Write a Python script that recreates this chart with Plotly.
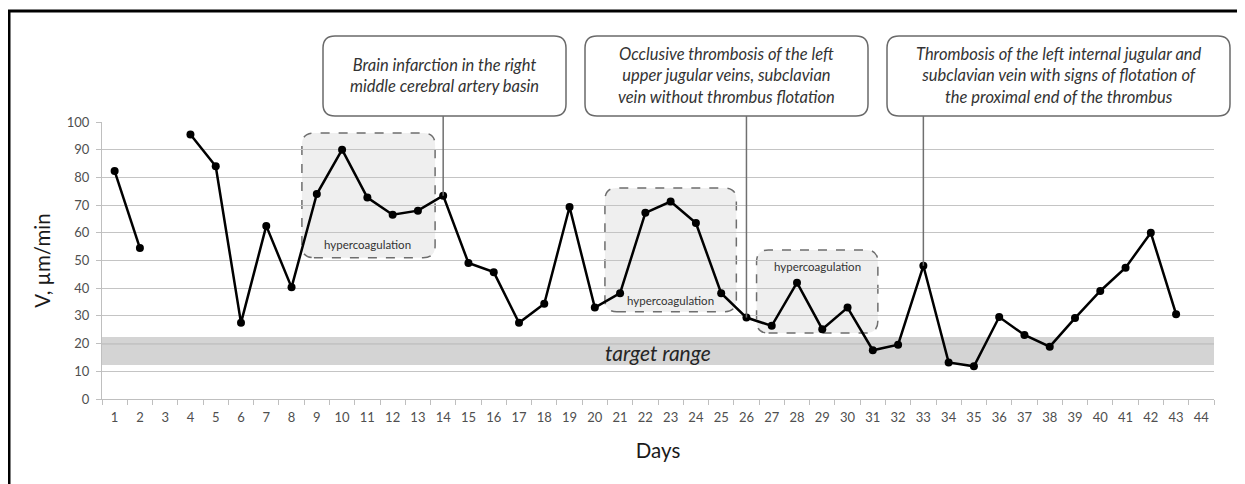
import plotly.graph_objects as go

# ---------------- data ----------------
days = list(range(1, 45))
velocity = [82.3, 54.5, None, 95.5, 84.0, 27.5, 62.5, 40.3, 74.0, 90.0,
            72.7, 66.5, 68.0, 73.4, 49.1, 45.8, 27.5, 34.4, 69.3, 33.0,
            38.2, 67.2, 71.3, 63.5, 38.2, 29.4, 26.4, 42.0, 25.2, 33.0,
            17.6, 19.6, 48.1, 13.2, 11.8, 29.6, 23.1, 18.9, 29.2, 39.0,
            47.4, 60.0, 30.6, None]
y_ticks = list(range(0, 101, 10))
target_low, target_high, target_line = 12.3, 22.4, 20

hyper_label = "hypercoagulation"
hyper_regions = [  # x0, x1, y0, y1 (data units), label x, label y
    (8.41, 13.68, 51.0, 96.0, 11.0, 55.6),
    (20.4, 25.6, 31.5, 76.2, 23.0, 35.4),
    (26.4, 31.2, 23.8, 53.8, 28.8, 48.0),
]
events_day = [14, 26, 33]
events_text = [
    "Brain infarction in the right<br>middle cerebral artery basin",
    "Occlusive thrombosis of the left<br>upper jugular veins, subclavian<br>vein without thrombus flotation",
    "Thrombosis of the left internal jugular and<br>subclavian vein with signs of flotation of<br>the proximal end of the thrombus",
]
# callout boxes in page pixel coordinates (x0, x1)
callout_px = [(323, 566), (585, 868), (887, 1230)]
callout_top, callout_bot = 36, 116

# ---------------- geometry ----------------
OFF = 8  # page offset of the plot div (body margin)
W, H = 1245 - OFF, 484 - OFF
L, R, T, B = 102 - OFF, 1214 - OFF, 122 - OFF, 399 - OFF
XMIN, XMAX = 0.5, 44.5
YMIN, YMAX = 0, 100


def px_to_paper_x(px):
    return (px - OFF - L) / (R - L)


def px_to_paper_y(py):
    return (B - (py - OFF)) / (B - T)


def rr_path(x0, x1, y0, y1, rx, ry):
    return (f"M {x0+rx},{y0} L {x1-rx},{y0} Q {x1},{y0} {x1},{y0+ry} "
            f"L {x1},{y1-ry} Q {x1},{y1} {x1-rx},{y1} L {x0+rx},{y1} "
            f"Q {x0},{y1} {x0},{y1-ry} L {x0},{y0+ry} Q {x0},{y0} {x0+rx},{y0} Z")


FONT = "Lato, 'Open Sans', sans-serif"
fig = go.Figure()

fig.add_trace(go.Scatter(
    x=days, y=velocity, mode="lines+markers",
    line=dict(color="black", width=2.5),
    marker=dict(color="black", size=8),
    connectgaps=False, showlegend=False, hoverinfo="x+y",
))

shapes = []
# target range band
shapes.append(dict(type="rect", xref="x", yref="y", x0=XMIN, x1=XMAX,
                   y0=target_low, y1=target_high, layer="below",
                   fillcolor="#d4d4d4", line=dict(width=0)))
shapes.append(dict(type="line", xref="x", yref="y", x0=XMIN, x1=XMAX,
                   y0=target_line, y1=target_line, layer="below",
                   line=dict(color="#a0a0a0", width=1.2)))

# hypercoagulation boxes
rx_d = 12 / ((R - L) / (XMAX - XMIN))
ry_d = 12 / ((B - T) / (YMAX - YMIN))
annotations = []
for x0, x1, y0, y1, lx, ly in hyper_regions:
    shapes.append(dict(type="path", xref="x", yref="y", layer="below",
                       path=rr_path(x0, x1, y0, y1, rx_d, ry_d),
                       fillcolor="rgba(225,225,225,0.55)",
                       line=dict(color="#6e6e6e", width=1.5, dash="dash")))
    annotations.append(dict(x=lx, y=ly, xref="x", yref="y", text=hyper_label,
                            showarrow=False, xanchor="center", yanchor="middle",
                            font=dict(family=FONT, size=11.5, color="#333333")))

# callouts
rx_p = 12 / (R - L)
ry_p = 12 / (B - T)
yt = px_to_paper_y(callout_top)
yb = px_to_paper_y(callout_bot)
for (px0, px1), day, txt in zip(callout_px, events_day, events_text):
    x0, x1 = px_to_paper_x(px0), px_to_paper_x(px1)
    shapes.append(dict(type="path", xref="paper", yref="paper",
                       path=rr_path(x0, x1, yb, yt, rx_p, ry_p),
                       fillcolor="white", line=dict(color="#6a6a6a", width=1.5)))
    xd = (day - XMIN) / (XMAX - XMIN)
    yv = velocity[days.index(day)]
    shapes.append(dict(type="line", xref="paper", yref="paper",
                       x0=xd, x1=xd, y0=yb, y1=yv / YMAX,
                       line=dict(color="#707070", width=1.5)))
    annotations.append(dict(x=(x0 + x1) / 2, y=(yt + yb) / 2, xref="paper", yref="paper",
                            text=f"<i>{txt}</i>", showarrow=False, align="center",
                            xanchor="center", yanchor="middle",
                            font=dict(family=FONT, size=16.5, color="#333333")))

# target range label
annotations.append(dict(x=22.5, y=16.7, xref="x", yref="y", text="<i>target range</i>",
                        showarrow=False, xanchor="center", yanchor="middle",
                        font=dict(family=FONT, size=21, color="#262626")))

# outer frame (only top and left edges visible)
shapes.append(dict(type="rect", xref="paper", yref="paper",
                   x0=px_to_paper_x(9), x1=px_to_paper_x(1245 + 20),
                   y0=px_to_paper_y(484 + 20), y1=px_to_paper_y(11),
                   line=dict(color="black", width=3), fillcolor="rgba(0,0,0,0)"))

fig.update_layout(
    width=W, height=H,
    margin=dict(l=L, r=W - R, t=T, b=H - B),
    paper_bgcolor="white", plot_bgcolor="rgba(0,0,0,0)",
    shapes=shapes, annotations=annotations, showlegend=False,
    font=dict(family=FONT),
)
fig.update_xaxes(
    range=[XMIN, XMAX], tickvals=days, ticktext=[str(d) for d in days],
    ticks="", showgrid=False, zeroline=False,
    showline=True, linecolor="#bfbfbf", linewidth=1,
    ticklabelstandoff=6,
    tickfont=dict(family=FONT, size=13, color="#4f4f4f"),
    minor=dict(tick0=0.5, dtick=1, ticks="outside", ticklen=5,
               tickcolor="#bfbfbf", showgrid=False),
    title=dict(text="Days", font=dict(family=FONT, size=20.5, color="#1a1a1a"), standoff=20),
)
fig.update_yaxes(
    range=[YMIN, YMAX], tickvals=y_ticks, ticks="outside", ticklen=5,
    tickcolor="#bfbfbf", showgrid=True, gridcolor="#c4c4c4", gridwidth=1,
    zeroline=False, showline=True, linecolor="#bfbfbf", linewidth=1,
    ticklabelstandoff=4,
    tickfont=dict(family=FONT, size=13, color="#4f4f4f"),
    title=dict(text="V, µm/min", font=dict(family=FONT, size=20.5, color="#1a1a1a"), standoff=10),
)

fig.write_html("out.html")
